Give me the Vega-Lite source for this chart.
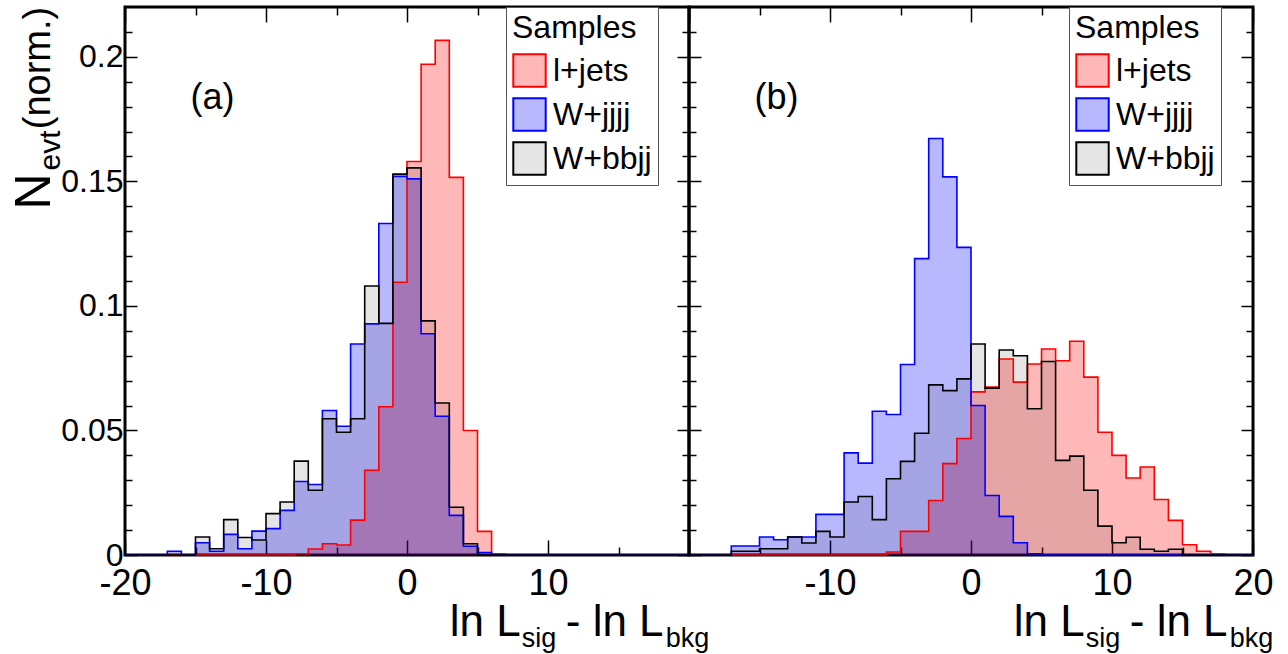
{
  "$schema": "https://vega.github.io/schema/vega-lite/v6.json",
  "padding": {"left": 8, "top": 4, "right": 0, "bottom": 0},
  "spacing": 0,
  "bounds": "flush",
  "config": {
    "font": "Liberation Sans",
    "view": {"stroke": "#000000", "strokeWidth": 3},
    "axis": {"domain": false, "grid": false, "tickColor": "#000000", "tickWidth": 1.5, "labelColor": "#000000", "labelFont": "Liberation Sans", "minExtent": 0},
    "text": {"font": "Liberation Sans", "color": "#000000"}
  },
  "resolve": {"legend": {"color": "independent"}},
  "datasets": {
    "one": [{}],
    "a": [
      {"s": "l+jets", "x": -20, "v": 0}, {"s": "l+jets", "x": -8, "v": 0.0005}, {"s": "l+jets", "x": -7, "v": 0.0024}, {"s": "l+jets", "x": -6, "v": 0.0045}, {"s": "l+jets", "x": -5, "v": 0.004}, {"s": "l+jets", "x": -4, "v": 0.014}, {"s": "l+jets", "x": -3, "v": 0.034}, {"s": "l+jets", "x": -2, "v": 0.0595}, {"s": "l+jets", "x": -1, "v": 0.1095}, {"s": "l+jets", "x": 0, "v": 0.158}, {"s": "l+jets", "x": 1, "v": 0.197}, {"s": "l+jets", "x": 2, "v": 0.2066}, {"s": "l+jets", "x": 3, "v": 0.1516}, {"s": "l+jets", "x": 4, "v": 0.05}, {"s": "l+jets", "x": 5, "v": 0.0095}, {"s": "l+jets", "x": 6, "v": 0.0005}, {"s": "l+jets", "x": 7, "v": 0}, {"s": "l+jets", "x": 20, "v": 0},
      {"s": "W+jjjj", "x": -20, "v": 0}, {"s": "W+jjjj", "x": -17, "v": 0.0015}, {"s": "W+jjjj", "x": -16, "v": 0}, {"s": "W+jjjj", "x": -15, "v": 0.0049}, {"s": "W+jjjj", "x": -14, "v": 0.0015}, {"s": "W+jjjj", "x": -13, "v": 0.0083}, {"s": "W+jjjj", "x": -12, "v": 0.0025}, {"s": "W+jjjj", "x": -11, "v": 0.0096}, {"s": "W+jjjj", "x": -10, "v": 0.0106}, {"s": "W+jjjj", "x": -9, "v": 0.0179}, {"s": "W+jjjj", "x": -8, "v": 0.0295}, {"s": "W+jjjj", "x": -7, "v": 0.0283}, {"s": "W+jjjj", "x": -6, "v": 0.058}, {"s": "W+jjjj", "x": -5, "v": 0.0517}, {"s": "W+jjjj", "x": -4, "v": 0.0847}, {"s": "W+jjjj", "x": -3, "v": 0.0928}, {"s": "W+jjjj", "x": -2, "v": 0.1331}, {"s": "W+jjjj", "x": -1, "v": 0.152}, {"s": "W+jjjj", "x": 0, "v": 0.151}, {"s": "W+jjjj", "x": 1, "v": 0.0888}, {"s": "W+jjjj", "x": 2, "v": 0.0557}, {"s": "W+jjjj", "x": 3, "v": 0.0159}, {"s": "W+jjjj", "x": 4, "v": 0.0035}, {"s": "W+jjjj", "x": 5, "v": 0.001}, {"s": "W+jjjj", "x": 6, "v": 0}, {"s": "W+jjjj", "x": 20, "v": 0},
      {"s": "W+bbjj", "x": -20, "v": 0}, {"s": "W+bbjj", "x": -15, "v": 0.0072}, {"s": "W+bbjj", "x": -14, "v": 0.0025}, {"s": "W+bbjj", "x": -13, "v": 0.0142}, {"s": "W+bbjj", "x": -12, "v": 0.007}, {"s": "W+bbjj", "x": -11, "v": 0.006}, {"s": "W+bbjj", "x": -10, "v": 0.0166}, {"s": "W+bbjj", "x": -9, "v": 0.0213}, {"s": "W+bbjj", "x": -8, "v": 0.0377}, {"s": "W+bbjj", "x": -7, "v": 0.026}, {"s": "W+bbjj", "x": -6, "v": 0.0547}, {"s": "W+bbjj", "x": -5, "v": 0.0493}, {"s": "W+bbjj", "x": -4, "v": 0.0547}, {"s": "W+bbjj", "x": -3, "v": 0.108}, {"s": "W+bbjj", "x": -2, "v": 0.093}, {"s": "W+bbjj", "x": -1, "v": 0.1529}, {"s": "W+bbjj", "x": 0, "v": 0.1554}, {"s": "W+bbjj", "x": 1, "v": 0.094}, {"s": "W+bbjj", "x": 2, "v": 0.061}, {"s": "W+bbjj", "x": 3, "v": 0.0192}, {"s": "W+bbjj", "x": 4, "v": 0.0045}, {"s": "W+bbjj", "x": 5, "v": 0}, {"s": "W+bbjj", "x": 20, "v": 0}
    ],
    "b": [
      {"s": "l+jets", "x": -20, "v": 0}, {"s": "l+jets", "x": -6, "v": 0.0012}, {"s": "l+jets", "x": -5, "v": 0.0095}, {"s": "l+jets", "x": -4, "v": 0.0095}, {"s": "l+jets", "x": -3, "v": 0.0219}, {"s": "l+jets", "x": -2, "v": 0.0367}, {"s": "l+jets", "x": -1, "v": 0.0468}, {"s": "l+jets", "x": 0, "v": 0.0655}, {"s": "l+jets", "x": 1, "v": 0.0674}, {"s": "l+jets", "x": 2, "v": 0.0787}, {"s": "l+jets", "x": 3, "v": 0.0694}, {"s": "l+jets", "x": 4, "v": 0.0767}, {"s": "l+jets", "x": 5, "v": 0.0827}, {"s": "l+jets", "x": 6, "v": 0.078}, {"s": "l+jets", "x": 7, "v": 0.0858}, {"s": "l+jets", "x": 8, "v": 0.0714}, {"s": "l+jets", "x": 9, "v": 0.0493}, {"s": "l+jets", "x": 10, "v": 0.04}, {"s": "l+jets", "x": 11, "v": 0.0309}, {"s": "l+jets", "x": 12, "v": 0.0353}, {"s": "l+jets", "x": 13, "v": 0.0223}, {"s": "l+jets", "x": 14, "v": 0.0139}, {"s": "l+jets", "x": 15, "v": 0.0041}, {"s": "l+jets", "x": 16, "v": 0.0015}, {"s": "l+jets", "x": 17, "v": 0.0005}, {"s": "l+jets", "x": 18, "v": 0}, {"s": "l+jets", "x": 20, "v": 0},
      {"s": "W+jjjj", "x": -20, "v": 0}, {"s": "W+jjjj", "x": -17, "v": 0.0036}, {"s": "W+jjjj", "x": -16, "v": 0.0036}, {"s": "W+jjjj", "x": -15, "v": 0.0072}, {"s": "W+jjjj", "x": -14, "v": 0.0061}, {"s": "W+jjjj", "x": -13, "v": 0.0072}, {"s": "W+jjjj", "x": -12, "v": 0.0072}, {"s": "W+jjjj", "x": -11, "v": 0.0163}, {"s": "W+jjjj", "x": -10, "v": 0.0163}, {"s": "W+jjjj", "x": -9, "v": 0.041}, {"s": "W+jjjj", "x": -8, "v": 0.0369}, {"s": "W+jjjj", "x": -7, "v": 0.0577}, {"s": "W+jjjj", "x": -6, "v": 0.0564}, {"s": "W+jjjj", "x": -5, "v": 0.0765}, {"s": "W+jjjj", "x": -4, "v": 0.119}, {"s": "W+jjjj", "x": -3, "v": 0.1672}, {"s": "W+jjjj", "x": -2, "v": 0.1518}, {"s": "W+jjjj", "x": -1, "v": 0.1235}, {"s": "W+jjjj", "x": 0, "v": 0.06}, {"s": "W+jjjj", "x": 1, "v": 0.0239}, {"s": "W+jjjj", "x": 2, "v": 0.0155}, {"s": "W+jjjj", "x": 3, "v": 0.0049}, {"s": "W+jjjj", "x": 4, "v": 0.0005}, {"s": "W+jjjj", "x": 5, "v": 0}, {"s": "W+jjjj", "x": 20, "v": 0},
      {"s": "W+bbjj", "x": -20, "v": 0}, {"s": "W+bbjj", "x": -17, "v": 0.0015}, {"s": "W+bbjj", "x": -16, "v": 0.0015}, {"s": "W+bbjj", "x": -15, "v": 0.0025}, {"s": "W+bbjj", "x": -14, "v": 0.0025}, {"s": "W+bbjj", "x": -13, "v": 0.0072}, {"s": "W+bbjj", "x": -12, "v": 0.0048}, {"s": "W+bbjj", "x": -11, "v": 0.0095}, {"s": "W+bbjj", "x": -10, "v": 0.0072}, {"s": "W+bbjj", "x": -9, "v": 0.0213}, {"s": "W+bbjj", "x": -8, "v": 0.0235}, {"s": "W+bbjj", "x": -7, "v": 0.0142}, {"s": "W+bbjj", "x": -6, "v": 0.0306}, {"s": "W+bbjj", "x": -5, "v": 0.0376}, {"s": "W+bbjj", "x": -4, "v": 0.0489}, {"s": "W+bbjj", "x": -3, "v": 0.0683}, {"s": "W+bbjj", "x": -2, "v": 0.066}, {"s": "W+bbjj", "x": -1, "v": 0.0707}, {"s": "W+bbjj", "x": 0, "v": 0.0847}, {"s": "W+bbjj", "x": 1, "v": 0.067}, {"s": "W+bbjj", "x": 2, "v": 0.0823}, {"s": "W+bbjj", "x": 3, "v": 0.08}, {"s": "W+bbjj", "x": 4, "v": 0.0587}, {"s": "W+bbjj", "x": 5, "v": 0.0777}, {"s": "W+bbjj", "x": 6, "v": 0.038}, {"s": "W+bbjj", "x": 7, "v": 0.0397}, {"s": "W+bbjj", "x": 8, "v": 0.026}, {"s": "W+bbjj", "x": 9, "v": 0.0116}, {"s": "W+bbjj", "x": 10, "v": 0.0049}, {"s": "W+bbjj", "x": 11, "v": 0.0071}, {"s": "W+bbjj", "x": 12, "v": 0.0023}, {"s": "W+bbjj", "x": 13, "v": 0.0015}, {"s": "W+bbjj", "x": 14, "v": 0.0023}, {"s": "W+bbjj", "x": 15, "v": 0}, {"s": "W+bbjj", "x": 20, "v": 0}
    ]
  },
  "hconcat": [
    {
      "width": 564,
      "height": 548,
      "resolve": {"axis": {"x": "independent", "y": "independent"}},
      "layer": [
        {
          "data": {"name": "a"},
          "mark": {"type": "area", "interpolate": "step-after"},
          "encoding": {
            "x": {"field": "x", "type": "quantitative", "scale": {"domain": [-20, 20], "nice": false, "zero": false},
              "axis": {"orient": "bottom", "title": null, "values": [-20, -15, -10, -5, 0, 5, 10, 15, 20], "labelExpr": "datum.value % 10 == 0 && datum.value != 20 ? '' + datum.value : ''", "tickSize": {"condition": {"test": "datum.value % 10 == 0", "value": -15}, "value": -8}, "labelFontSize": 36, "labelPadding": 26, "labelFlush": false, "labelOverlap": false}},
            "y": {"field": "v", "type": "quantitative", "stack": null, "scale": {"domain": [0, 0.22], "nice": false},
              "axis": {"orient": "left", "title": null, "values": [0, 0.01, 0.02, 0.03, 0.04, 0.05, 0.06, 0.07, 0.08, 0.09, 0.1, 0.11, 0.12, 0.13, 0.14, 0.15, 0.16, 0.17, 0.18, 0.19, 0.2, 0.21], "labelExpr": "indexof([0, 0.05, 0.1, 0.15, 0.2], datum.value) >= 0 ? '' + datum.value : ''", "tickSize": {"condition": {"test": "indexof([0, 0.05, 0.1, 0.15, 0.2], datum.value) >= 0", "value": -12}, "value": -7}, "labelFontSize": 32, "labelPadding": 14, "labelFlush": false, "labelOverlap": false}},
            "color": {"field": "s", "type": "nominal", "scale": {"domain": ["l+jets", "W+jjjj", "W+bbjj"], "range": ["#ff0000", "#0000ff", "#000000"]},
              "legend": {"title": "Samples", "orient": "none", "legendX": 381, "legendY": 0, "symbolType": "square", "symbolSize": 1050, "symbolStrokeWidth": 2, "labelFontSize": 32, "titleFontSize": 32, "titleFontWeight": "normal", "labelColor": "#000000", "titleColor": "#000000", "strokeColor": "#555555", "fillColor": "#ffffff", "padding": 6, "rowPadding": 3, "titlePadding": 8, "labelOffset": 6,
                "encode": {"symbols": {"update": {"stroke": {"signal": "datum.value == 'l+jets' ? '#ff0000' : datum.value == 'W+jjjj' ? '#0000ff' : '#000000'"}, "fill": {"signal": "datum.value == 'l+jets' ? '#ff0000' : datum.value == 'W+jjjj' ? '#0000ff' : '#000000'"}, "fillOpacity": {"signal": "datum.value == 'W+bbjj' ? 0.1 : 0.28"}, "opacity": {"value": 1}, "strokeWidth": {"value": 2}}}}}},
            "fillOpacity": {"condition": {"test": "datum.s == 'W+bbjj'", "value": 0.1}, "value": 0.28}
          }
        },
        {
          "data": {"name": "a"},
          "mark": {"type": "line", "interpolate": "step-after", "strokeWidth": 1.6},
          "encoding": {
            "x": {"field": "x", "type": "quantitative", "scale": {"domain": [-20, 20], "nice": false, "zero": false},
              "axis": {"orient": "top", "title": null, "labels": false, "values": [-20, -15, -10, -5, 0, 5, 10, 15, 20], "tickSize": {"condition": {"test": "datum.value % 10 == 0", "value": -15}, "value": -8}}},
            "y": {"field": "v", "type": "quantitative", "stack": null, "scale": {"domain": [0, 0.22], "nice": false},
              "axis": {"orient": "right", "title": null, "labels": false, "values": [0, 0.01, 0.02, 0.03, 0.04, 0.05, 0.06, 0.07, 0.08, 0.09, 0.1, 0.11, 0.12, 0.13, 0.14, 0.15, 0.16, 0.17, 0.18, 0.19, 0.2, 0.21], "tickSize": {"condition": {"test": "indexof([0, 0.05, 0.1, 0.15, 0.2], datum.value) >= 0", "value": -12}, "value": -7}}},
            "color": {"field": "s", "type": "nominal", "scale": {"domain": ["l+jets", "W+jjjj", "W+bbjj"], "range": ["#ff0000", "#0000ff", "#000000"]}}
          }
        },
        {
          "data": {"name": "one"},
          "mark": {"type": "text", "text": "(a)", "fontSize": 36, "align": "center", "baseline": "middle"},
          "encoding": {"x": {"datum": -13.8, "type": "quantitative", "axis": null}, "y": {"datum": 0.1836, "type": "quantitative", "axis": null}}
        },
        {
          "data": {"name": "one"},
          "mark": {"type": "text", "text": "N", "fontSize": 50, "angle": 270, "align": "left", "baseline": "alphabetic"},
          "encoding": {"x": {"datum": -25.34, "type": "quantitative", "axis": null}, "y": {"datum": 0.1387, "type": "quantitative", "axis": null}}
        },
        {
          "data": {"name": "one"},
          "mark": {"type": "text", "text": "evt", "fontSize": 30, "angle": 270, "align": "left", "baseline": "alphabetic"},
          "encoding": {"x": {"datum": -24.63, "type": "quantitative", "axis": null}, "y": {"datum": 0.1544, "type": "quantitative", "axis": null}}
        },
        {
          "data": {"name": "one"},
          "mark": {"type": "text", "text": "(norm.)", "fontSize": 38, "angle": 270, "align": "right", "baseline": "alphabetic"},
          "encoding": {"x": {"datum": -25.34, "type": "quantitative", "axis": null}, "y": {"datum": 0.2201, "type": "quantitative", "axis": null}}
        },
        {
          "data": {"name": "one"},
          "mark": {"type": "text", "text": "ln L", "fontSize": 44, "align": "left", "baseline": "alphabetic"},
          "encoding": {"x": {"datum": 3.03, "type": "quantitative", "axis": null}, "y": {"datum": -0.0325, "type": "quantitative", "axis": null}}
        },
        {
          "data": {"name": "one"},
          "mark": {"type": "text", "text": "sig", "fontSize": 27, "align": "left", "baseline": "alphabetic"},
          "encoding": {"x": {"datum": 8.13, "type": "quantitative", "axis": null}, "y": {"datum": -0.0369, "type": "quantitative", "axis": null}}
        },
        {
          "data": {"name": "one"},
          "mark": {"type": "text", "text": "- ln L", "fontSize": 44, "align": "left", "baseline": "alphabetic"},
          "encoding": {"x": {"datum": 11.26, "type": "quantitative", "axis": null}, "y": {"datum": -0.0325, "type": "quantitative", "axis": null}}
        },
        {
          "data": {"name": "one"},
          "mark": {"type": "text", "text": "bkg", "fontSize": 27, "align": "left", "baseline": "alphabetic"},
          "encoding": {"x": {"datum": 18.35, "type": "quantitative", "axis": null}, "y": {"datum": -0.0369, "type": "quantitative", "axis": null}}
        }
      ]
    },
    {
      "width": 564,
      "height": 548,
      "resolve": {"axis": {"x": "independent", "y": "independent"}},
      "layer": [
        {
          "data": {"name": "b"},
          "mark": {"type": "area", "interpolate": "step-after"},
          "encoding": {
            "x": {"field": "x", "type": "quantitative", "scale": {"domain": [-20, 20], "nice": false, "zero": false},
              "axis": {"orient": "bottom", "title": null, "values": [-20, -15, -10, -5, 0, 5, 10, 15, 20], "labelExpr": "datum.value % 10 == 0 && datum.value != -20 ? '' + datum.value : ''", "tickSize": {"condition": {"test": "datum.value % 10 == 0", "value": -15}, "value": -8}, "labelFontSize": 36, "labelPadding": 26, "labelFlush": false, "labelOverlap": false}},
            "y": {"field": "v", "type": "quantitative", "stack": null, "scale": {"domain": [0, 0.22], "nice": false},
              "axis": {"orient": "left", "title": null, "labels": false, "values": [0, 0.01, 0.02, 0.03, 0.04, 0.05, 0.06, 0.07, 0.08, 0.09, 0.1, 0.11, 0.12, 0.13, 0.14, 0.15, 0.16, 0.17, 0.18, 0.19, 0.2, 0.21], "tickSize": {"condition": {"test": "indexof([0, 0.05, 0.1, 0.15, 0.2], datum.value) >= 0", "value": -12}, "value": -7}}},
            "color": {"field": "s", "type": "nominal", "scale": {"domain": ["l+jets", "W+jjjj", "W+bbjj"], "range": ["#ff0000", "#0000ff", "#000000"]},
              "legend": {"title": "Samples", "orient": "none", "legendX": 380, "legendY": 0, "symbolType": "square", "symbolSize": 1050, "symbolStrokeWidth": 2, "labelFontSize": 32, "titleFontSize": 32, "titleFontWeight": "normal", "labelColor": "#000000", "titleColor": "#000000", "strokeColor": "#555555", "fillColor": "#ffffff", "padding": 6, "rowPadding": 3, "titlePadding": 8, "labelOffset": 6,
                "encode": {"symbols": {"update": {"stroke": {"signal": "datum.value == 'l+jets' ? '#ff0000' : datum.value == 'W+jjjj' ? '#0000ff' : '#000000'"}, "fill": {"signal": "datum.value == 'l+jets' ? '#ff0000' : datum.value == 'W+jjjj' ? '#0000ff' : '#000000'"}, "fillOpacity": {"signal": "datum.value == 'W+bbjj' ? 0.1 : 0.28"}, "opacity": {"value": 1}, "strokeWidth": {"value": 2}}}}}},
            "fillOpacity": {"condition": {"test": "datum.s == 'W+bbjj'", "value": 0.1}, "value": 0.28}
          }
        },
        {
          "data": {"name": "b"},
          "mark": {"type": "line", "interpolate": "step-after", "strokeWidth": 1.6},
          "encoding": {
            "x": {"field": "x", "type": "quantitative", "scale": {"domain": [-20, 20], "nice": false, "zero": false},
              "axis": {"orient": "top", "title": null, "labels": false, "values": [-20, -15, -10, -5, 0, 5, 10, 15, 20], "tickSize": {"condition": {"test": "datum.value % 10 == 0", "value": -15}, "value": -8}}},
            "y": {"field": "v", "type": "quantitative", "stack": null, "scale": {"domain": [0, 0.22], "nice": false},
              "axis": {"orient": "right", "title": null, "labels": false, "values": [0, 0.01, 0.02, 0.03, 0.04, 0.05, 0.06, 0.07, 0.08, 0.09, 0.1, 0.11, 0.12, 0.13, 0.14, 0.15, 0.16, 0.17, 0.18, 0.19, 0.2, 0.21], "tickSize": {"condition": {"test": "indexof([0, 0.05, 0.1, 0.15, 0.2], datum.value) >= 0", "value": -12}, "value": -7}}},
            "color": {"field": "s", "type": "nominal", "scale": {"domain": ["l+jets", "W+jjjj", "W+bbjj"], "range": ["#ff0000", "#0000ff", "#000000"]}}
          }
        },
        {
          "data": {"name": "one"},
          "mark": {"type": "text", "text": "(b)", "fontSize": 36, "align": "center", "baseline": "middle"},
          "encoding": {"x": {"datum": -13.8, "type": "quantitative", "axis": null}, "y": {"datum": 0.1836, "type": "quantitative", "axis": null}}
        },
        {
          "data": {"name": "one"},
          "mark": {"type": "text", "text": "ln L", "fontSize": 44, "align": "left", "baseline": "alphabetic"},
          "encoding": {"x": {"datum": 3.03, "type": "quantitative", "axis": null}, "y": {"datum": -0.0325, "type": "quantitative", "axis": null}}
        },
        {
          "data": {"name": "one"},
          "mark": {"type": "text", "text": "sig", "fontSize": 27, "align": "left", "baseline": "alphabetic"},
          "encoding": {"x": {"datum": 8.13, "type": "quantitative", "axis": null}, "y": {"datum": -0.0369, "type": "quantitative", "axis": null}}
        },
        {
          "data": {"name": "one"},
          "mark": {"type": "text", "text": "- ln L", "fontSize": 44, "align": "left", "baseline": "alphabetic"},
          "encoding": {"x": {"datum": 11.26, "type": "quantitative", "axis": null}, "y": {"datum": -0.0325, "type": "quantitative", "axis": null}}
        },
        {
          "data": {"name": "one"},
          "mark": {"type": "text", "text": "bkg", "fontSize": 27, "align": "left", "baseline": "alphabetic"},
          "encoding": {"x": {"datum": 18.35, "type": "quantitative", "axis": null}, "y": {"datum": -0.0369, "type": "quantitative", "axis": null}}
        }
      ]
    }
  ]
}
